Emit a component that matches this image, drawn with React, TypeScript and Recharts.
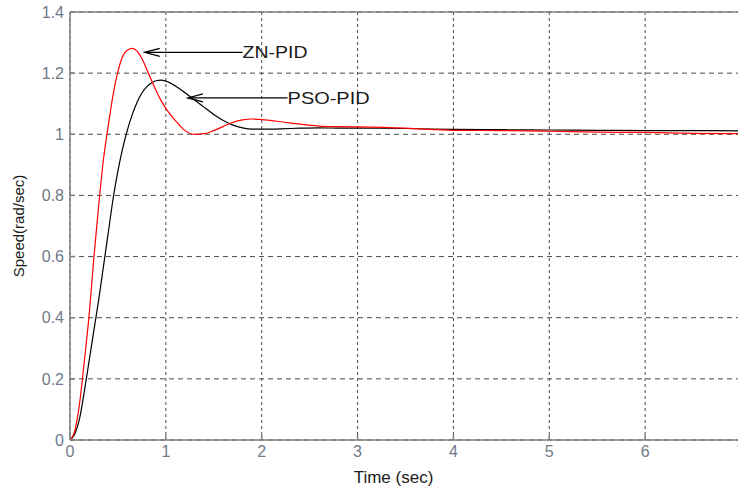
import {
  LineChart,
  Line,
  XAxis,
  YAxis,
  CartesianGrid,
  ReferenceLine,
  ReferenceDot,
} from "recharts";

// time samples (sec) shared by both responses
const time = [
  0, 0.05, 0.1, 0.15, 0.2, 0.25, 0.3, 0.35, 0.4, 0.45, 0.5, 0.55, 0.6, 0.65,
  0.7, 0.75, 0.8, 0.85, 0.9, 0.95, 1.0, 1.1, 1.2, 1.3, 1.4, 1.5, 1.6, 1.7, 1.8,
  1.9, 2.0, 2.2, 2.4, 2.6, 2.8, 3.0, 3.5, 4.0, 4.5, 5.0, 5.5, 6.0, 6.5, 7.0,
];

const znPid = [
  0, 0.03, 0.12, 0.26, 0.41, 0.6, 0.77, 0.92, 1.03, 1.13, 1.205, 1.255, 1.276,
  1.281, 1.272, 1.248, 1.213, 1.177, 1.142, 1.11, 1.085, 1.045, 1.012, 1.0,
  1.002, 1.012, 1.026, 1.039, 1.047, 1.05, 1.048, 1.041, 1.033, 1.027, 1.025,
  1.024, 1.02, 1.013, 1.012, 1.01, 1.007, 1.006, 1.003, 1.002,
];

const psoPid = [
  0, 0.02, 0.07, 0.16, 0.26, 0.36, 0.46, 0.57, 0.68, 0.79, 0.88, 0.955, 1.015,
  1.065, 1.105, 1.135, 1.155, 1.168, 1.175, 1.177, 1.174, 1.158, 1.136, 1.112,
  1.088, 1.065, 1.045, 1.03, 1.021, 1.017, 1.017, 1.018, 1.02, 1.021, 1.02,
  1.02, 1.019, 1.016, 1.015, 1.014, 1.013, 1.012, 1.012, 1.011,
];

const xTicks = [0, 1, 2, 3, 4, 5, 6, 7];
const yTicks = [0, 0.2, 0.4, 0.6, 0.8, 1, 1.2, 1.4];

// annotation anchors: arrow tip and where the label text starts
const znArrow = { tip: { x: 0.78, y: 1.268 }, text: { x: 1.8, y: 1.268 } };
const psoArrow = { tip: { x: 1.23, y: 1.119 }, text: { x: 2.27, y: 1.119 } };

const data = time.map((t, i) => ({ t, zn: znPid[i], pso: psoPid[i] }));

const AXIS = "#808080";
const TICK_TEXT = "#707a8a";
const FONT = "'Liberation Sans', Arial, sans-serif";

function XTick({ x, y, payload }: any) {
  return (
    <g>
      <line x1={x} x2={x} y1={y} y2={y - 5} stroke={AXIS} strokeWidth={1.5} />
      <text x={x} y={y + 17} textAnchor="middle" fill={TICK_TEXT} fontSize={16} fontFamily={FONT}>
        {payload.value}
      </text>
    </g>
  );
}

function YTick({ x, y, payload }: any) {
  return (
    <g>
      <line x1={x} x2={x + 5} y1={y} y2={y} stroke={AXIS} strokeWidth={1.5} />
      <text x={x - 6} y={y} dy="0.36em" textAnchor="end" fill={TICK_TEXT} fontSize={16} fontFamily={FONT}>
        {payload.value}
      </text>
    </g>
  );
}

function YTitle({ viewBox }: any) {
  const x = viewBox.x + 18;
  const y = viewBox.y + viewBox.height / 2;
  return (
    <text
      x={x}
      y={y}
      transform={`rotate(-90 ${x} ${y})`}
      textAnchor="middle"
      dominantBaseline="central"
      fontSize={15}
      fontFamily={FONT}
      fill="#1a1a1a"
    >
      Speed(rad/sec)
    </text>
  );
}

function XTitle({ viewBox }: any) {
  const x = viewBox.x + viewBox.width / 2 - 12;
  return (
    <text x={x} y={viewBox.y + 43} textAnchor="middle" fontSize={17} fontFamily={FONT} fill="#1a1a1a">
      Time (sec)
    </text>
  );
}

function ArrowHead({ cx, cy }: any) {
  return (
    <path
      d={`M${cx + 15},${cy - 4} L${cx},${cy} L${cx + 15},${cy + 4}`}
      fill="none"
      stroke="#000"
      strokeWidth={1.3}
    />
  );
}

function annoText(label: string, width: number) {
  return ({ cx, cy }: any) => (
    <text
      x={cx}
      y={cy}
      dy="0.36em"
      fontSize={17}
      fontFamily={FONT}
      fill="#1a1a1a"
      textLength={width}
      lengthAdjust="spacingAndGlyphs"
    >
      {label}
    </text>
  );
}

export default function App() {
  return (
    <div style={{ position: "absolute", left: 0, top: 0, background: "#fff" }}>
      <LineChart
        width={738}
        height={486}
        data={data}
        margin={{ top: 12, right: -3, bottom: 0, left: 0 }}
      >
        <CartesianGrid vertical={false} stroke="#4a4a4a" strokeDasharray="5 4" />
        <CartesianGrid horizontal={false} stroke="#4a4a4a" strokeDasharray="3 3" />
        <XAxis
          dataKey="t"
          type="number"
          domain={[0, 7]}
          ticks={xTicks}
          height={46}
          axisLine={{ stroke: AXIS, strokeWidth: 1.5 }}
          tickLine={false}
          tickSize={0}
          tickMargin={0}
          tick={<XTick />}
          interval={0}
          label={<XTitle />}
        />
        <YAxis
          type="number"
          domain={[0, 1.4]}
          ticks={yTicks}
          width={70}
          axisLine={{ stroke: AXIS, strokeWidth: 1.5 }}
          tickLine={false}
          tickSize={0}
          tickMargin={0}
          tick={<YTick />}
          interval={0}
          label={<YTitle />}
        />
        <ReferenceLine y={1.4} stroke={AXIS} strokeWidth={1.5} />
        <Line
          dataKey="pso"
          type="monotone"
          stroke="#000000"
          strokeWidth={1.2}
          dot={false}
          isAnimationActive={false}
        />
        <Line
          dataKey="zn"
          type="monotone"
          stroke="#ff0000"
          strokeWidth={1.2}
          dot={false}
          isAnimationActive={false}
        />
        <ReferenceLine segment={[znArrow.tip, znArrow.text]} stroke="#000" strokeWidth={1.2} />
        <ReferenceDot x={znArrow.tip.x} y={znArrow.tip.y} r={0} shape={<ArrowHead />} />
        <ReferenceDot x={znArrow.text.x} y={znArrow.text.y} r={0} shape={annoText("ZN-PID", 65)} />
        <ReferenceLine segment={[psoArrow.tip, psoArrow.text]} stroke="#000" strokeWidth={1.2} />
        <ReferenceDot x={psoArrow.tip.x} y={psoArrow.tip.y} r={0} shape={<ArrowHead />} />
        <ReferenceDot x={psoArrow.text.x} y={psoArrow.text.y} r={0} shape={annoText("PSO-PID", 82)} />
      </LineChart>
    </div>
  );
}
